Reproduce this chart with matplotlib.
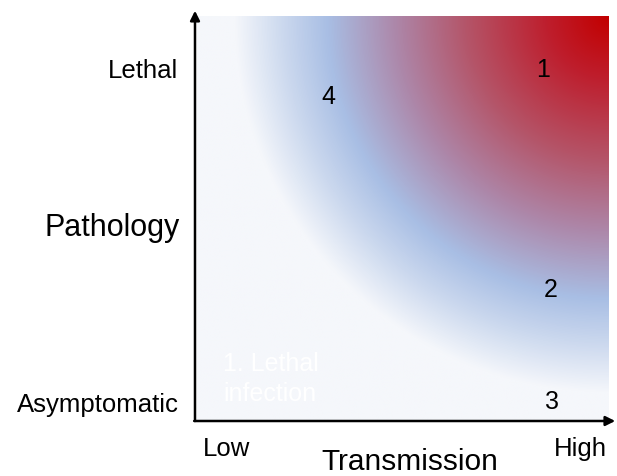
import numpy as np
import matplotlib.pyplot as plt
from matplotlib.colors import LinearSegmentedColormap

plt.rcParams['font.family'] = ['Liberation Sans', 'DejaVu Sans']

# axis labels and tick labels
x_label = "Transmission"
y_label = "Pathology"
x_ticks = [0.077, 0.93]
x_tick_labels = ["Low", "High"]
y_ticks = [0.049, 0.874]
y_tick_labels = ["Asymptomatic", "Lethal"]

# numbered points
point_labels = ["1", "2", "3", "4"]
point_x = [0.841, 0.860, 0.862, 0.321]
point_y = [0.869, 0.326, 0.049, 0.802]

# gradient stops: distance from top-right corner -> colour
grad_pos = [0.0, 0.15, 0.35, 0.52, 0.69, 0.80, 0.92, 1.0]
grad_col = ["#c20000", "#be1e2d", "#b45569", "#ad86a8",
            "#a8bee4", "#cbd8ee", "#f5f7fb", "#f5f7fb"]

fig = plt.figure(figsize=(6.17, 4.77), dpi=100)
ax = fig.add_axes([195 / 617, 1 - 422 / 477, 414 / 617, 405 / 477])

# radial gradient
n = 400
xx, yy = np.meshgrid(np.linspace(0, 1, n), np.linspace(0, 1, n))
r = np.sqrt(((1 - xx) * 414) ** 2 + ((1 - yy) * 405) ** 2) / 410
r = np.clip(r, 0, 1)
cmap = LinearSegmentedColormap.from_list("path", list(zip(grad_pos, grad_col)))
ax.imshow(r, cmap=cmap, vmin=0, vmax=1, origin="lower",
          extent=[0.005, 1, 0, 1], aspect="auto", interpolation="bilinear")

ax.set_xlim(0, 1)
ax.set_ylim(0, 1)
for s in ax.spines.values():
    s.set_visible(False)

ax.set_xticks(x_ticks)
ax.set_xticklabels(x_tick_labels, fontsize=18.5)
ax.set_yticks(y_ticks)
ax.set_yticklabels(y_tick_labels, fontsize=18.5)
ax.tick_params(length=0)
ax.tick_params(axis="x", pad=11)
ax.tick_params(axis="y", pad=12)

# axes arrows
arrow = dict(arrowstyle="-|>", lw=1.8, color="black", mutation_scale=14,
             shrinkA=0, shrinkB=0)
ax.annotate("", xy=(0, 1.013), xytext=(0, 0), xycoords="axes fraction",
            arrowprops=arrow, annotation_clip=False)
ax.annotate("", xy=(1.015, 0), xytext=(-0.002, 0), xycoords="axes fraction",
            arrowprops=arrow, annotation_clip=False)

for lab, px, py in zip(point_labels, point_x, point_y):
    ax.text(px, py, lab, fontsize=18, ha="center", va="center")

ax.text(0.068, 0.106, "1. Lethal\ninfection", color="white", fontsize=18,
        ha="left", va="center", linespacing=1.3)

fig.text(112 / 617, 1 - 228 / 477, y_label, fontsize=22, ha="center", va="center")
fig.text(410 / 617, 1 - 462 / 477, x_label, fontsize=21.5, ha="center", va="center")

fig.savefig("out.png", dpi=100)
